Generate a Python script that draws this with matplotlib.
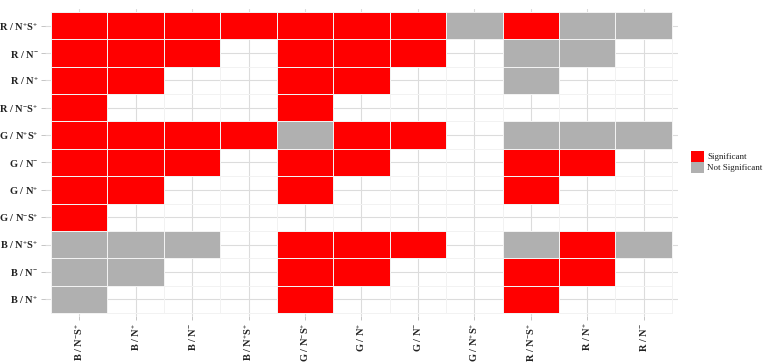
import numpy as np
import matplotlib.pyplot as plt
from matplotlib.colors import ListedColormap
from matplotlib.patches import Patch

plt.rcParams["mathtext.fontset"] = "custom"
plt.rcParams["mathtext.rm"] = "Liberation Serif:bold"
plt.rcParams["mathtext.it"] = "Liberation Serif:bold"
plt.rcParams["mathtext.bf"] = "Liberation Serif:bold"

# Categorías
cols = ["B / N$^{-}$S$^{+}$", "B / N$^{+}$", "B / N$^{-}$", "B / N$^{+}$S$^{+}$",
        "G / N$^{-}$S$^{+}$", "G / N$^{+}$", "G / N$^{-}$", "G / N$^{+}$S$^{+}$",
        "R / N$^{-}$S$^{+}$", "R / N$^{+}$", "R / N$^{-}$"]
rows = ["R / N$^{+}$S$^{+}$", "R / N$^{-}$", "R / N$^{+}$", "R / N$^{-}$S$^{+}$",
        "G / N$^{+}$S$^{+}$", "G / N$^{-}$", "G / N$^{+}$", "G / N$^{-}$S$^{+}$",
        "B / N$^{+}$S$^{+}$", "B / N$^{-}$", "B / N$^{+}$"]

# 1 = significativo, 0 = no significativo, None = vacío
sig = [
    [1, 1, 1, 1, 1, 1, 1, 0, 1, 0, 0],
    [1, 1, 1, None, 1, 1, 1, None, 0, 0, None],
    [1, 1, None, None, 1, 1, None, None, 0, None, None],
    [1, None, None, None, 1, None, None, None, None, None, None],
    [1, 1, 1, 1, 0, 1, 1, None, 0, 0, 0],
    [1, 1, 1, None, 1, 1, None, None, 1, 1, None],
    [1, 1, None, None, 1, None, None, None, 1, None, None],
    [1, None, None, None, None, None, None, None, None, None, None],
    [0, 0, 0, None, 1, 1, 1, None, 0, 1, 0],
    [0, 0, None, None, 1, 1, None, None, 1, 1, None],
    [0, None, None, None, 1, None, None, None, 1, None, None],
]

M = np.array([[np.nan if v is None else v for v in r] for r in sig], dtype=float)
M = np.ma.masked_invalid(M)

serif = ["Liberation Serif", "DejaVu Serif"]
fig = plt.figure(figsize=(7.63, 3.64), dpi=100)
ax = fig.add_axes([0.0595, 0.1327, 0.8285, 0.8418])

cmap = ListedColormap(["#b0b0b0", "#ff0000"])
x_edges = np.arange(len(cols) + 1) - 0.5
y_edges = np.arange(len(rows) + 1) - 0.5
ax.pcolormesh(x_edges, y_edges, M, cmap=cmap, vmin=0, vmax=1,
              edgecolors="#f2f2f2", linewidth=0.7, zorder=2)

ax.set_xlim(-0.6, len(cols) - 0.4)
ax.set_ylim(len(rows) - 0.4, -0.6)
ax.set_xticks(range(len(cols)))
ax.set_yticks(range(len(rows)))
ax.set_xticklabels(cols, rotation=90, family=serif, fontsize=7.5, fontweight="bold")
ax.set_yticklabels(rows, family=serif, fontsize=7.5, fontweight="bold")
ax.grid(True, color="#dcdcdc", linewidth=0.8, zorder=0)
ax.set_axisbelow(True)
for s in ax.spines.values():
    s.set_visible(False)
ax.tick_params(length=3, width=0.6, color="#bbbbbb", pad=2, labelcolor="#222222")

handles = [Patch(facecolor="#ff0000", label="Significant"),
           Patch(facecolor="#b0b0b0", label="Not Significant")]
fig.legend(handles=handles, loc="center left", bbox_to_anchor=(0.902, 0.555),
           frameon=False, prop={"family": serif, "size": 6.5},
           handlelength=1.4, handleheight=1.5, handletextpad=0.4, labelspacing=0.0,
           borderaxespad=0.0, borderpad=0.3, labelcolor="#222222")

fig.savefig("out.png", dpi=100)
